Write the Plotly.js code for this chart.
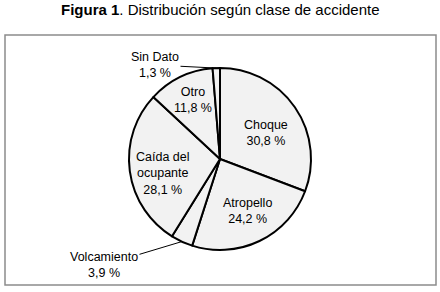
<!DOCTYPE html>
<html>
<head>
<meta charset="utf-8">
<script src="https://cdn.plot.ly/plotly-3.0.1.min.js"></script>
<style>html,body{margin:0;padding:0;background:#fff;}</style>
</head>
<body>
<div id="chart" style="width:440px;height:292px;"></div>
<script>
const categories = ["Choque", "Atropello", "Volcamiento", "Caída del<br>ocupante", "Otro", "Sin Dato"];
const values = [30.8, 24.2, 3.9, 28.1, 11.8, 1.3];
const outsideLabels = ["Volcamiento", "Sin Dato"];

// style: placement of inside labels (radius fraction, angular shift in degrees)
const insideLabelPlace = {
  "Choque": {r: 0.58, da: 5},
  "Atropello": {r: 0.65, da: -2.5},
  "Caída del<br>ocupante": {r: 0.645, da: -7},
  "Otro": {r: 0.71, da: 1}
};

const W = 440, H = 292;
const dom = {x: [129 / W, 311 / W], y: [1 - 250 / H, 1 - 68 / H]};
const fmt = v => v.toFixed(1).replace('.', ',') + ' %';
const FONT = 'Liberation Sans, Arial, sans-serif';

const total = values.reduce((a, b) => a + b, 0);
const cx = (dom.x[0] + dom.x[1]) / 2, cy = (dom.y[0] + dom.y[1]) / 2;
const rPx = (dom.x[1] - dom.x[0]) * W / 2;
function pos(i, frac, da) {
  let cum = 0;
  for (let k = 0; k < i; k++) cum += values[k];
  const a = (cum + values[i] / 2) / total * 2 * Math.PI + (da || 0) * Math.PI / 180;
  return {x: cx + frac * rPx * Math.sin(a) / W, y: cy + frac * rPx * Math.cos(a) / H};
}

const data = [{
  type: 'pie',
  labels: categories,
  values: values,
  textinfo: 'none',
  sort: false,
  direction: 'clockwise',
  rotation: 0,
  domain: dom,
  marker: {colors: categories.map(() => '#f2f2f2'), line: {color: '#000', width: 2}},
  hoverinfo: 'none',
  showlegend: false
}];

const annotations = [
  {xref: 'paper', yref: 'paper', x: 0.5, y: 1 - 9 / H, xanchor: 'center', yanchor: 'middle', showarrow: false,
   text: '<b>Figura 1</b>. Distribución según clase de accidente', font: {size: 15, color: '#000', family: FONT}}
];
categories.forEach((c, i) => {
  if (outsideLabels.includes(c)) return;
  const pl = insideLabelPlace[c];
  const p = pos(i, pl.r, pl.da);
  annotations.push({xref: 'paper', yref: 'paper', x: p.x, y: p.y, xanchor: 'center', yanchor: 'middle',
    showarrow: false, text: c + '<br>' + fmt(values[i]), font: {size: 12.5, color: '#000', family: FONT}});
});
const iS = categories.indexOf("Sin Dato"), iV = categories.indexOf("Volcamiento");
const tS = pos(iS, 1), tV = pos(iV, 1);
annotations.push(
  {xref: 'paper', yref: 'paper', x: tS.x, y: tS.y, showarrow: true, arrowhead: 0, arrowwidth: 1, arrowcolor: '#000',
   ax: 155 - tS.x * W, ay: 65 - (1 - tS.y) * H, text: 'Sin Dato<br>' + fmt(values[iS]), font: {size: 12.5, color: '#000', family: FONT}},
  {xref: 'paper', yref: 'paper', x: tV.x, y: tV.y, showarrow: true, arrowhead: 0, arrowwidth: 1, arrowcolor: '#000',
   ax: 104 - tV.x * W, ay: 265 - (1 - tV.y) * H, text: 'Volcamiento<br>' + fmt(values[iV]), font: {size: 12.5, color: '#000', family: FONT}}
);

const layout = {
  width: W, height: H,
  margin: {l: 0, r: 0, t: 0, b: 0},
  paper_bgcolor: '#fff',
  font: {family: FONT, size: 12, color: '#000'},
  showlegend: false,
  shapes: [{type: 'rect', xref: 'paper', yref: 'paper', x0: 5 / W, x1: 436 / W, y0: 1 - 285 / H, y1: 1 - 35 / H,
    line: {color: '#8c8c8c', width: 1.5}, fillcolor: 'rgba(0,0,0,0)'}],
  annotations: annotations
};

Plotly.newPlot('chart', data, layout, {staticPlot: true, displayModeBar: false});
</script>
</body>
</html>
